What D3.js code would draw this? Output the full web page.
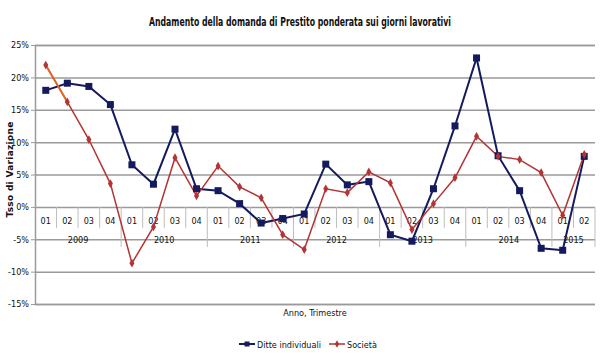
<!DOCTYPE html>
<html>
<head>
<meta charset="utf-8">
<script src="https://cdn.jsdelivr.net/npm/d3@7"></script>
<style>
  html, body { margin: 0; padding: 0; background: #fff; }
  svg { display: block; }
  text { font-family: "Liberation Sans Narrow", "DejaVu Sans Condensed", "Arial Narrow", sans-serif; fill: #111; }
</style>
</head>
<body>
<svg id="chart" width="600" height="360"></svg>
<script>
const quarters = ["01","02","03","04","01","02","03","04","01","02","03","04","01","02","03","04","01","02","03","04","01","02","03","04","01","02"];
const years = ["2009","2010","2011","2012","2013","2014","2015"];
const yearCounts = [4,4,4,4,4,4,2];
const ditteIndividuali = [18.0,19.1,18.6,15.8, 6.5,3.5,12.0,2.8, 2.5,0.5,-2.5,-1.8, -1.1,6.6,3.4,3.9, -4.3,-5.3,2.8,12.5, 23.0,7.9,2.5,-6.4, -6.7,7.8];
const societa = [21.9,16.2,10.4,3.6, -8.7,-3.1,7.6,1.7, 6.3,3.1,1.4,-4.3, -6.6,2.8,2.2,5.4, 3.7,-3.5,0.5,4.5, 10.9,7.8,7.3,5.3, -1.3,8.1];
const yTicks = [-15,-10,-5,0,5,10,15,20,25];
const seriesNames = ["Ditte individuali","Società"];

(function () {
const svg = d3.select("#chart");
const mLeft = 35, mRight = 595, mTop = 45, mBottom = 304;
const navy = "#141a5e", red = "#b23434", orange = "#e4661a";

const x = d3.scaleBand().domain(d3.range(quarters.length)).range([mLeft, mRight]);
const y = d3.scaleLinear().domain([-15, 25]).range([mBottom, mTop]);

// Title
svg.append("text").attr("x", 300).attr("y", 26).attr("text-anchor", "middle")
  .style("font-size", "11.5px").style("font-weight", "bold")
  .attr("textLength", 302).attr("lengthAdjust", "spacingAndGlyphs")
  .text("Andamento della domanda di Prestito ponderata sui giorni lavorativi");

// Gridlines
const yAxis = d3.axisLeft(y).tickValues(yTicks).tickFormat(d => d + "%").tickSize(-(mRight - mLeft)).tickPadding(6);
const gy = svg.append("g").attr("transform", `translate(${mLeft},0)`).call(yAxis);
gy.select(".domain").attr("stroke", "#9a9a9a").attr("stroke-width", 1.5);
gy.selectAll(".tick line").attr("stroke", "#9a9a9a").attr("stroke-width", 1.5);
gy.selectAll(".tick text").style("font-size", "9px").attr("fill", "#111");
gy.selectAll(".tick").append("line").attr("x1", -4).attr("x2", 0).attr("stroke", "#9a9a9a");

// Category axis at 0
const y0 = y(0);
const sepG = svg.append("g");
d3.range(1, quarters.length + 1).forEach(i => {
  const xi = i < quarters.length ? x(i) : mRight;
  let cum = 0, isYear = false;
  yearCounts.forEach(c => { cum += c; if (cum === i) isYear = true; });
  sepG.append("line").attr("x1", xi).attr("x2", xi).attr("y1", y0)
    .attr("y2", isYear ? y0 + 40 : y0 + 21)
    .attr("stroke", "#bdbdbd").attr("stroke-width", 1);
});
svg.append("g").selectAll("text").data(quarters).join("text")
  .attr("x", (d, i) => x(i) + x.bandwidth() / 2).attr("y", y0 + 17)
  .attr("text-anchor", "middle").style("font-size", "9px").text(d => d);
let start = 0;
years.forEach((yr, k) => {
  const s = start, e = start + yearCounts[k];
  const xe = e < quarters.length ? x(e) : mRight;
  svg.append("text").attr("x", (x(s) + xe) / 2).attr("y", y0 + 36)
    .attr("text-anchor", "middle").style("font-size", "9px").text(yr);
  start = e;
});

// Axis titles
svg.append("text").attr("transform", `translate(13,${(mTop + mBottom) / 2 - 5}) rotate(-90)`)
  .attr("text-anchor", "middle").style("font-size", "9px").style("font-weight", "bold")
  .style("font-family", "'DejaVu Sans', sans-serif").style("letter-spacing", "0.3px")
  .text("Tsso di Variazione");
svg.append("text").attr("x", 315).attr("y", 316).attr("text-anchor", "middle")
  .style("font-size", "9px").text("Anno, Trimestre");

// Lines
const cx = i => x(i) + x.bandwidth() / 2;
const line = d3.line().x((d, i) => cx(i)).y(d => y(d));
svg.append("path").datum(ditteIndividuali).attr("d", line)
  .attr("fill", "none").attr("stroke", navy).attr("stroke-width", 2);
svg.append("path").datum(societa).attr("d", line)
  .attr("fill", "none").attr("stroke", red).attr("stroke-width", 1.5);
svg.append("path").datum(societa.slice(0, 2)).attr("d", line)
  .attr("fill", "none").attr("stroke", orange).attr("stroke-width", 1.8);

// Markers
svg.append("g").selectAll("rect").data(ditteIndividuali).join("rect")
  .attr("x", (d, i) => cx(i) - 3.5).attr("y", d => y(d) - 3.5)
  .attr("width", 7).attr("height", 7).attr("fill", navy);
const diamond = d3.symbol().type(d3.symbolDiamond).size(22);
svg.append("g").selectAll("path").data(societa).join("path")
  .attr("transform", (d, i) => `translate(${cx(i)},${y(d)})`)
  .attr("d", diamond).attr("fill", red);

// Legend
const lg = svg.append("g").attr("transform", "translate(0,344)");
lg.append("line").attr("x1", 239).attr("x2", 255).attr("y1", 0).attr("y2", 0).attr("stroke", navy).attr("stroke-width", 2);
lg.append("rect").attr("x", 244.5).attr("y", -2.5).attr("width", 5).attr("height", 5).attr("fill", navy);
lg.append("text").attr("x", 257).attr("y", 3.5).style("font-size", "9px").text(seriesNames[0]);
lg.append("line").attr("x1", 329).attr("x2", 345).attr("y1", 0).attr("y2", 0).attr("stroke", red).attr("stroke-width", 1.5);
lg.append("path").attr("transform", "translate(337,0)").attr("d", d3.symbol().type(d3.symbolDiamond).size(16)).attr("fill", red);
lg.append("text").attr("x", 347).attr("y", 3.5).style("font-size", "9px").text(seriesNames[1]);
})();
</script>
</body>
</html>
